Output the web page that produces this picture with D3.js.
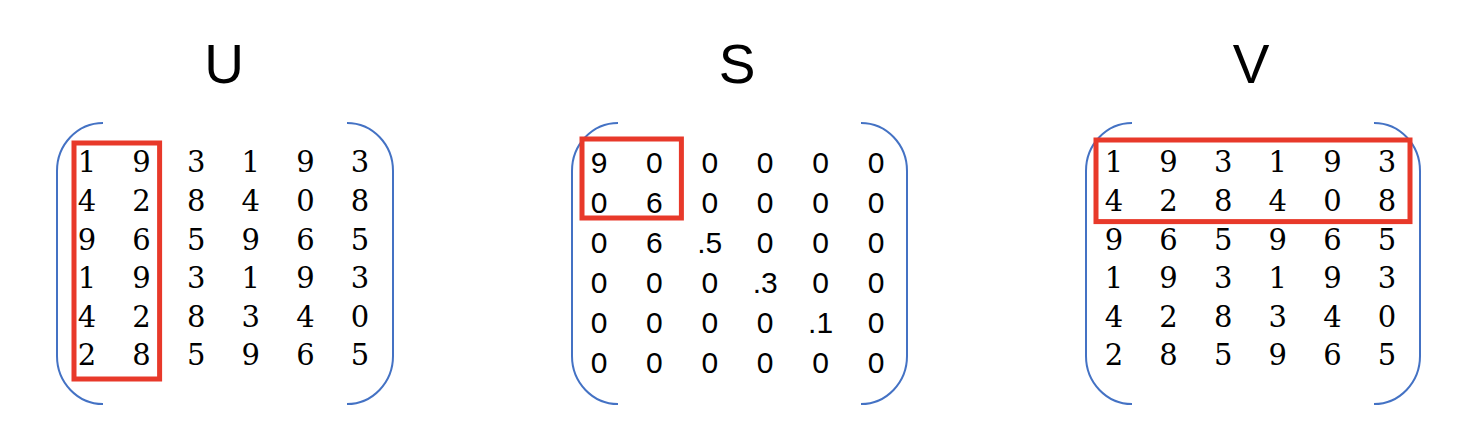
<!DOCTYPE html>
<html>
<head>
<meta charset="utf-8">
<script src="https://cdn.jsdelivr.net/npm/d3@7"></script>
<style>
  html, body { margin: 0; padding: 0; background: #fff; }
  .title { font-family: "Liberation Sans", "Open Sans", sans-serif; font-size: 55px; fill: #000; }
  .serif { font-family: "DejaVu Serif", serif; font-size: 29px; fill: #000; }
  .sans { font-family: "Liberation Sans", sans-serif; font-size: 30px; fill: #000; }
</style>
</head>
<body>
<div id="app"></div>
<script>
// matrix names
const titles = ['U', 'S', 'V'];

// U values
const uValues = [
  ['1', '9', '3', '1', '9', '3'],
  ['4', '2', '8', '4', '0', '8'],
  ['9', '6', '5', '9', '6', '5'],
  ['1', '9', '3', '1', '9', '3'],
  ['4', '2', '8', '3', '4', '0'],
  ['2', '8', '5', '9', '6', '5']
];

// S values (singular values on the diagonal)
const sValues = [
  ['9', '0', '0', '0', '0', '0'],
  ['0', '6', '0', '0', '0', '0'],
  ['0', '6', '.5', '0', '0', '0'],
  ['0', '0', '0', '.3', '0', '0'],
  ['0', '0', '0', '0', '.1', '0'],
  ['0', '0', '0', '0', '0', '0']
];

// V values
const vValues = [
  ['1', '9', '3', '1', '9', '3'],
  ['4', '2', '8', '4', '0', '8'],
  ['9', '6', '5', '9', '6', '5'],
  ['1', '9', '3', '1', '9', '3'],
  ['4', '2', '8', '3', '4', '0'],
  ['2', '8', '5', '9', '6', '5']
];

// highlighted block: [firstRow, lastRow, firstCol, lastCol]
const uHighlight = [0, 5, 0, 1];
const sHighlight = [0, 1, 0, 1];
const vHighlight = [0, 1, 0, 5];

function render() {
  const width = 1468;
  const height = 448;
  const blue = '#4472c4';
  const red = '#e8392a';

  // layout per matrix: column centres, row centres, bracket edges, box padding
  const layout = [
    { values: uValues, hl: uHighlight, cls: 'serif', title: 224, cols: [87, 360], rows: [162, 355], left: 57, right: 393, pad: { l: 13, r: 18, t: 19, b: 24 } },
    { values: sValues, hl: sHighlight, cls: 'sans', title: 737, cols: [599, 876], rows: [162, 362], left: 572, right: 907, pad: { l: 17, r: 27, t: 23, b: 16 } },
    { values: vValues, hl: vHighlight, cls: 'serif', title: 1251, cols: [1114, 1387], rows: [162, 355], left: 1086, right: 1420, pad: { l: 18, r: 23, t: 22, b: 21 } }
  ];
  const bracketTop = 123;
  const bracketBottom = 404;
  const rx = 46;
  const ry = 48;

  const svg = d3.select('#app').append('svg').attr('width', width).attr('height', height);

  layout.forEach((m, k) => {
    const g = svg.append('g');
    const xScale = d3.scalePoint(d3.range(6), m.cols);
    const yScale = d3.scalePoint(d3.range(6), m.rows);

    g.append('text')
      .attr('class', 'title')
      .attr('x', m.title)
      .attr('y', 83)
      .attr('text-anchor', 'middle')
      .text(titles[k]);

    // brackets
    const l = m.left, r = m.right;
    g.append('path')
      .attr('d', `M${l + rx},${bracketTop} A${rx},${ry} 0 0 0 ${l},${bracketTop + ry} L${l},${bracketBottom - ry} A${rx},${ry} 0 0 0 ${l + rx},${bracketBottom}`)
      .attr('fill', 'none').attr('stroke', blue).attr('stroke-width', 2);
    g.append('path')
      .attr('d', `M${r - rx},${bracketTop} A${rx},${ry} 0 0 1 ${r},${bracketTop + ry} L${r},${bracketBottom - ry} A${rx},${ry} 0 0 1 ${r - rx},${bracketBottom}`)
      .attr('fill', 'none').attr('stroke', blue).attr('stroke-width', 2);

    // cells
    const cells = m.values.flatMap((row, i) => row.map((v, j) => ({ i, j, v })));
    g.selectAll('text.cell').data(cells).join('text')
      .attr('class', 'cell ' + m.cls)
      .attr('x', d => xScale(d.j))
      .attr('y', d => yScale(d.i))
      .attr('dy', '0.36em')
      .attr('text-anchor', 'middle')
      .text(d => d.v);

    // highlight box
    const [r0, r1, c0, c1] = m.hl;
    g.append('rect')
      .attr('x', xScale(c0) - m.pad.l)
      .attr('y', yScale(r0) - m.pad.t)
      .attr('width', xScale(c1) - xScale(c0) + m.pad.l + m.pad.r)
      .attr('height', yScale(r1) - yScale(r0) + m.pad.t + m.pad.b)
      .attr('fill', 'none')
      .attr('stroke', red)
      .attr('stroke-width', 5);
  });
}

render();
</script>
</body>
</html>
